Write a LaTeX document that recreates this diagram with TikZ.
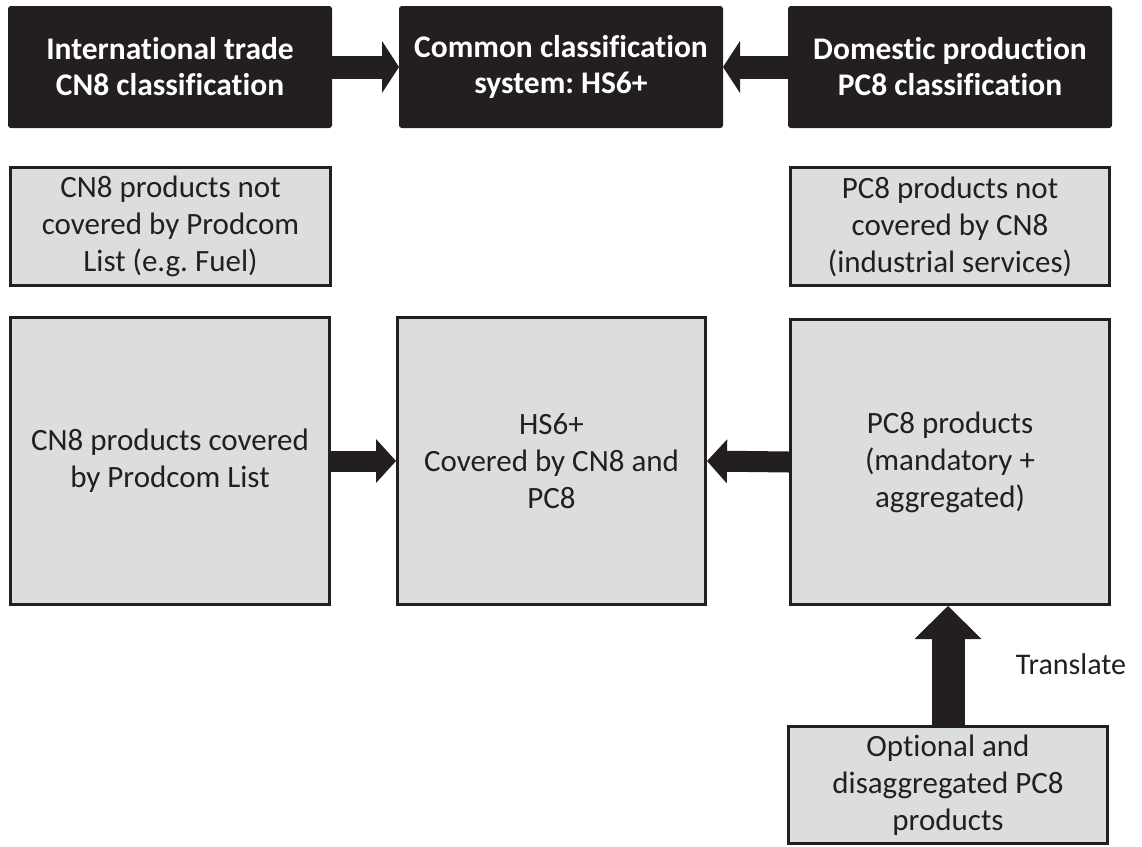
\documentclass[tikz,border=0pt]{standalone}
\usepackage{fontspec}
\setmainfont{Carlito}[RawFeature={-liga;-clig;-calt;-dlig}]
\frenchspacing
\usetikzlibrary{arrows.meta}
\definecolor{ink}{HTML}{231F20}
\definecolor{boxgray}{HTML}{DCDDDF}
\begin{document}
\begin{tikzpicture}[x=1pt,y=-1pt,
  darkbox/.style={draw=ink, fill=ink, line width=2pt, rounded corners=2pt, text=white, align=center,
    font=\fontsize{31.5}{36}\selectfont\bfseries, inner sep=0pt, minimum width=322pt, minimum height=120pt},
  graybox/.style={draw=ink, fill=boxgray, line width=3pt, text=ink, align=center,
    font=\fontsize{31}{37}\selectfont, inner sep=0pt},
  toparrow/.style={draw=ink, line width=23pt, -{Triangle[length=17pt,width=52pt,line width=0pt]}},
  midarrow/.style={draw=ink, line width=21pt, -{Triangle[length=20pt,width=44pt,line width=0pt]}},
  uparrow/.style={draw=ink, line width=33pt, -{Triangle[length=33pt,width=67pt,line width=0pt]}},
  plain/.style={text=ink, font=\fontsize{30}{36}\selectfont, inner sep=0pt}
]
\useasboundingbox (0,0) rectangle (1142,846);

% top row
\node[darkbox] (t1) at (170,67) {International trade\\CN8 classification};
\node[darkbox] (t2) at (561,67) {Common classification\\system: HS6+};
\node[darkbox] (t3) at (950,67) {Domestic production\\PC8 classification};

% small gray boxes
\node[graybox, minimum width=320pt, minimum height=118pt] (s1) at (170.5,226.5)
  {CN8 products not\\covered by Prodcom\\List (e.g. Fuel)};
\node[graybox, minimum width=319pt, minimum height=118pt] (s3) at (950,226.5)
  {PC8 products not\\covered by CN8\\(industrial services)};

% big boxes
\node[graybox, minimum width=319pt, minimum height=287pt] (b1) at (170,461)
  {CN8 products covered\\by Prodcom List};
\node[graybox, minimum width=308pt, minimum height=287pt] (b2) at (551.5,461)
  {HS6+\\Covered by CN8 and\\PC8};
\node[graybox, minimum width=319pt, minimum height=285pt] (b3) at (950,462)
  {PC8 products\\(mandatory +\\aggregated)};

% bottom box
\node[graybox, minimum width=319pt, minimum height=117pt] (opt) at (948,785)
  {Optional and\\disaggregated PC8\\products};

% label
\node[plain] (tr) at (1071,664) {Translate};

% arrows
\draw[toparrow] (t1.east) -- (t2.west);
\draw[toparrow] (t3.west) -- (t2.east);
\draw[midarrow] (b1.east) -- (b2.west);
\draw[midarrow] (b3.west) -- (b2.east);
\draw[uparrow] (opt.north) -- (opt.north |- b3.south);
\end{tikzpicture}
\end{document}
